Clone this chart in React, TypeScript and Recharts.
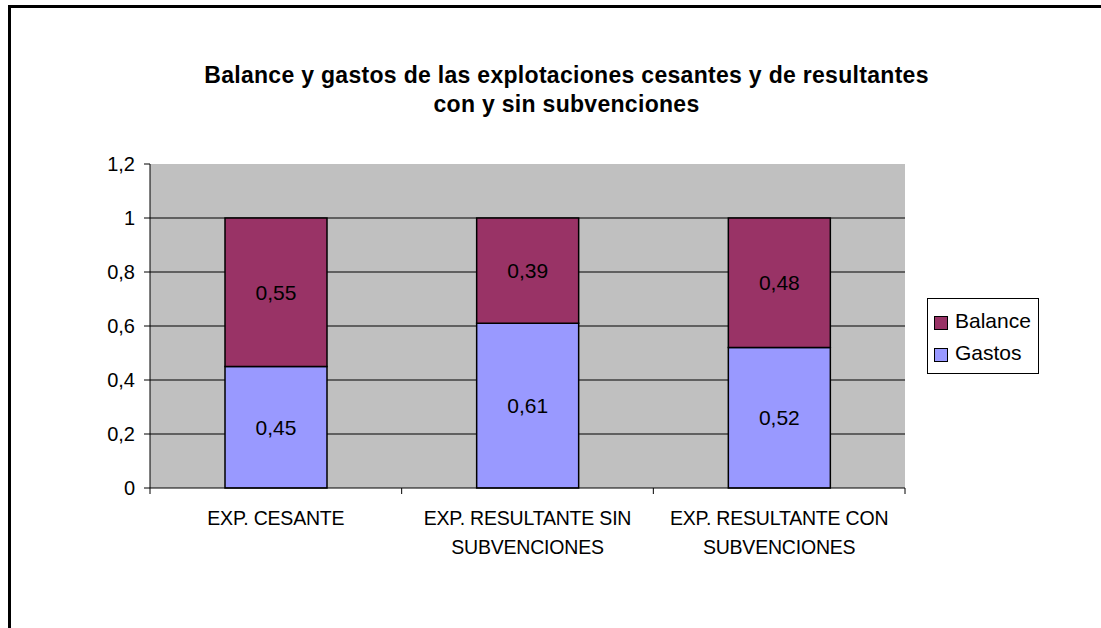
import React from "react";
import {
  Bar,
  BarChart,
  CartesianGrid,
  LabelList,
  XAxis,
  YAxis,
} from "recharts";

const categories = [
  "EXP. CESANTE",
  "EXP. RESULTANTE SIN SUBVENCIONES",
  "EXP. RESULTANTE CON SUBVENCIONES",
];
const gastos = [0.45, 0.61, 0.52];
const balance = [0.55, 0.39, 0.48];
const yTicks = [0, 0.2, 0.4, 0.6, 0.8, 1, 1.2];

const chartTitle = [
  "Balance y gastos de las explotaciones cesantes y de resultantes",
  "con y sin subvenciones",
];

const legendItems = [
  { name: "Balance", color: "#993366" },
  { name: "Gastos", color: "#9999FF" },
];

const data = categories.map((name, i) => ({
  name,
  Gastos: gastos[i],
  Balance: balance[i],
}));

const FONT = "'Liberation Sans', Arial, sans-serif";
const fmt = (v: number) => String(v).replace(".", ",");

// splits a label into lines of ~20 chars, like the spreadsheet does
function wrap(text: string, max = 20): string[] {
  const lines: string[] = [];
  let cur = "";
  for (const w of text.split(" ")) {
    const next = cur ? cur + " " + w : w;
    if (next.length > max && cur) {
      lines.push(cur);
      cur = w;
    } else {
      cur = next;
    }
  }
  if (cur) lines.push(cur);
  return lines;
}

function CategoryTick(props: any) {
  const { x, y, payload, index } = props;
  const half = payload.offset || 0;
  const lines = wrap(payload.value);
  return (
    <g>
      <line x1={x - half} y1={y - 8} x2={x - half} y2={y - 2} stroke="#000" />
      {index === categories.length - 1 && (
        <line x1={x + half} y1={y - 8} x2={x + half} y2={y - 2} stroke="#000" />
      )}
      <text
        x={x}
        y={y}
        textAnchor="middle"
        fontFamily={FONT}
        fontSize={19.5}
        letterSpacing={-0.2}
        fill="#000"
      >
        {lines.map((l, i) => (
          <tspan key={i} x={x} dy={29}>
            {l}
          </tspan>
        ))}
      </text>
    </g>
  );
}

function LegendBox() {
  return (
    <div
      style={{
        position: "absolute",
        left: 927,
        top: 298,
        border: "1px solid #000",
        width: 112,
        height: 76,
        boxSizing: "border-box",
        padding: "6px 0 0 6px",
        fontFamily: FONT,
        fontSize: 21,
        background: "#fff",
      }}
    >
      {legendItems.map((it) => (
        <div
          key={it.name}
          style={{ display: "flex", alignItems: "center", height: 32 }}
        >
          <span
            style={{
              width: 12,
              height: 12,
              background: it.color,
              border: "1.5px solid #000",
              marginRight: 7,
              marginTop: 3,
              flexShrink: 0,
            }}
          />
          <span>{it.name}</span>
        </div>
      ))}
    </div>
  );
}

export default function App() {
  return (
    <div
      style={{
        position: "absolute",
        left: 0,
        top: 0,
        width: 1101,
        height: 628,
        overflow: "hidden",
        background: "#fff",
      }}
    >
      <div
        style={{
          position: "absolute",
          left: 8,
          top: 5,
          width: 1200,
          height: 700,
          border: "3px solid #000",
        }}
      />
      <div
        style={{
          position: "absolute",
          left: 0,
          top: 61,
          width: 1133,
          textAlign: "center",
          fontFamily: FONT,
          fontWeight: "bold",
          fontSize: 23,
          lineHeight: "29px",
          letterSpacing: 0.3,
        }}
      >
        {chartTitle.map((t) => (
          <div key={t}>{t}</div>
        ))}
      </div>
      <div style={{ position: "absolute", left: 0, top: 0 }}>
        <BarChart
          width={1101}
          height={628}
          data={data}
          margin={{ top: 164, right: 196, left: 90, bottom: 80 }}
        >
          <CartesianGrid
            fill="#C0C0C0"
            fillOpacity={1}
            stroke="#000"
            vertical={false}
            horizontalValues={[0.2, 0.4, 0.6, 0.8, 1]}
          />
          <XAxis
            dataKey="name"
            height={60}
            axisLine={{ stroke: "#000" }}
            tickLine={false}
            interval={0}
            tick={<CategoryTick />}
          />
          <YAxis
            width={60}
            domain={[0, 1.2]}
            ticks={yTicks}
            interval={0}
            axisLine={{ stroke: "#000" }}
            tickLine={{ stroke: "#000" }}
            tickSize={6}
            tickMargin={9}
            tickFormatter={fmt}
            tick={{ fill: "#000", fontFamily: FONT, fontSize: 20 }}
          />
          <Bar
            dataKey="Gastos"
            stackId="a"
            fill="#9999FF"
            stroke="#000"
            strokeWidth={1.5}
            barSize={102}
            isAnimationActive={false}
          >
            <LabelList
              dataKey="Gastos"
              position="center"
              formatter={(v: any) => fmt(v)}
              style={{ fill: "#000", fontFamily: FONT, fontSize: 21 }}
            />
          </Bar>
          <Bar
            dataKey="Balance"
            stackId="a"
            fill="#993366"
            stroke="#000"
            strokeWidth={1.5}
            barSize={102}
            isAnimationActive={false}
          >
            <LabelList
              dataKey="Balance"
              position="center"
              formatter={(v: any) => fmt(v)}
              style={{ fill: "#000", fontFamily: FONT, fontSize: 21 }}
            />
          </Bar>
        </BarChart>
      </div>
      <LegendBox />
    </div>
  );
}
